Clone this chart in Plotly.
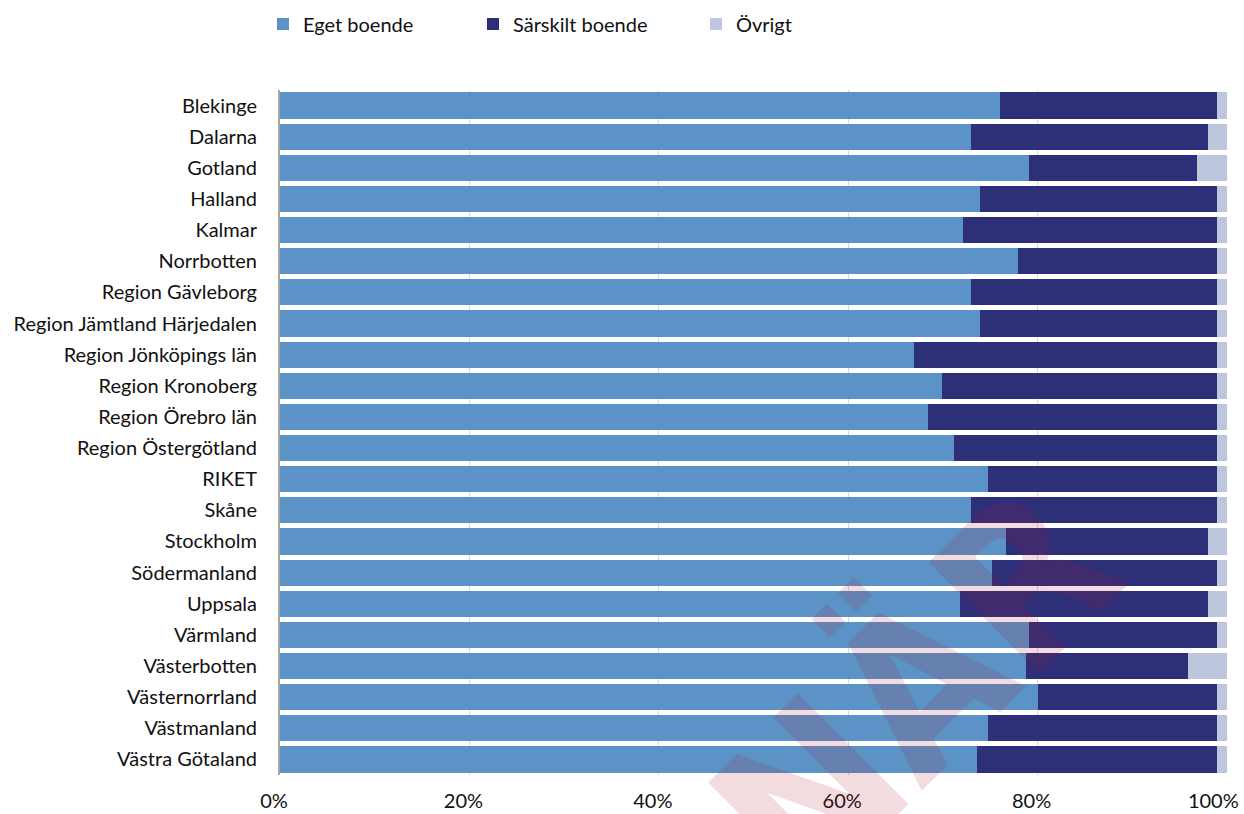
import plotly.graph_objects as go

categories = ["Blekinge", "Dalarna", "Gotland", "Halland", "Kalmar", "Norrbotten",
              "Region Gävleborg", "Region Jämtland Härjedalen", "Region Jönköpings län",
              "Region Kronoberg", "Region Örebro län", "Region Östergötland", "RIKET",
              "Skåne", "Stockholm", "Södermanland", "Uppsala", "Värmland", "Västerbotten",
              "Västernorrland", "Västmanland", "Västra Götaland"]

eget_boende = [76.0, 73.0, 79.1, 73.9, 72.1, 77.9, 73.0, 73.9, 66.9, 69.9, 68.4, 71.2,
               74.8, 73.0, 76.7, 75.2, 71.8, 79.1, 78.8, 80.0, 74.8, 73.6]
sarskilt_boende = [22.9, 25.0, 17.7, 25.0, 26.8, 21.0, 25.9, 25.0, 32.0, 29.0, 30.5, 27.7,
                   24.1, 25.9, 21.3, 23.7, 26.2, 19.8, 17.1, 18.9, 24.1, 25.3]
ovrigt = [1.1, 2.0, 3.2, 1.1, 1.1, 1.1, 1.1, 1.1, 1.1, 1.1, 1.1, 1.1,
          1.1, 1.1, 2.0, 1.1, 2.0, 1.1, 4.1, 1.1, 1.1, 1.1]

series_names = ["Eget boende", "Särskilt boende", "Övrigt"]
colors = ["#5b93c7", "#2d2f79", "#bcc6dc"]
legend_ids = ["legend", "legend", "legend2"]

tick_vals = [0, 20, 40, 60, 80, 100]
tick_text = ["0%", "20%", "40%", "60%", "80%", "100%\u00a0\u00a0\u00a0"]

fig = go.Figure()
for name, vals, col, lg in zip(series_names, [eget_boende, sarskilt_boende, ovrigt], colors, legend_ids):
    fig.add_trace(go.Bar(
        y=categories, x=vals, name=name, orientation="h", legend=lg,
        marker=dict(color=col, line=dict(width=0)),
    ))

font_family = "Lato, 'Open Sans', sans-serif"

fig.update_layout(
    barmode="stack",
    bargap=0.16,
    width=1244, height=814,
    margin=dict(l=280, r=17, t=90, b=39, autoexpand=False),
    paper_bgcolor="white",
    plot_bgcolor="white",
    font=dict(family=font_family, size=20, color="#111111"),
    legend=dict(
        orientation="h", x=263 / 1244, xanchor="left", y=0.9705, yanchor="middle",
        xref="container", yref="container",
        entrywidth=165, entrywidthmode="pixels",
        font=dict(size=20, family=font_family),
        traceorder="normal",
    ),
    legend2=dict(
        orientation="h", x=696 / 1244, xanchor="left", y=0.9705, yanchor="middle",
        xref="container", yref="container",
        font=dict(size=20, family=font_family),
    ),
    xaxis=dict(
        range=[0, 100], tickvals=tick_vals, ticktext=tick_text,
        showgrid=True, gridcolor="#d9d9d9", gridwidth=1,
        zeroline=False, showline=False, ticks="", automargin=False,
        ticklabelstandoff=12, ticklabelshift=-6, ticklabeloverflow="allow",
        tickfont=dict(size=20, family=font_family),
    ),
    yaxis=dict(
        categoryorder="array", categoryarray=categories, autorange="reversed",
        showline=True, linecolor="#a6a6a6", linewidth=2, automargin=False,
        ticks="", ticklabelstandoff=17,
        tickfont=dict(size=20, family=font_family),
        showgrid=False,
    ),
)

fig.add_annotation(
    text="<b>NÄR</b>", x=0.672, y=0.124, xref="paper", yref="paper",
    xanchor="center", yanchor="middle",
    showarrow=False, textangle=-45,
    font=dict(family="DejaVu Sans Condensed", size=215, color="rgba(168,22,48,0.15)"),
)

fig.write_html("out.html", config={"displayModeBar": False},
               post_script="document.body.style.margin='0px';")
